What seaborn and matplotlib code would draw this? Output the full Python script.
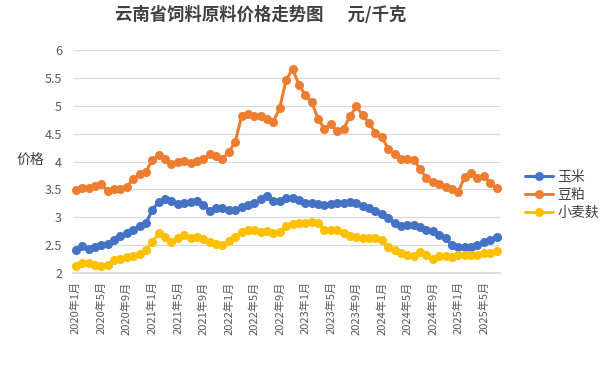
import pandas as pd
import matplotlib
matplotlib.use("Agg")
import matplotlib.pyplot as plt
import seaborn as sns

# 月份：2020年1月 - 2025年7月
months = [f"{y}年{m}月" for y in range(2020, 2026) for m in range(1, 13)][:67]

corn = [2.42, 2.48, 2.44, 2.46, 2.50, 2.53, 2.60, 2.67, 2.71, 2.78, 2.84, 2.89,
        3.13, 3.28, 3.32, 3.30, 3.24, 3.26, 3.28, 3.30, 3.22, 3.12, 3.16, 3.17,
        3.13, 3.14, 3.18, 3.22, 3.26, 3.32, 3.38, 3.30, 3.30, 3.35, 3.34, 3.31,
        3.26, 3.25, 3.23, 3.22, 3.24, 3.25, 3.26, 3.27, 3.26, 3.20, 3.16, 3.12,
        3.06, 2.98, 2.89, 2.84, 2.86, 2.86, 2.83, 2.78, 2.76, 2.68, 2.62, 2.50,
        2.47, 2.47, 2.47, 2.50, 2.56, 2.59, 2.65]

soymeal = [3.49, 3.53, 3.53, 3.56, 3.59, 3.48, 3.50, 3.51, 3.55, 3.68, 3.78, 3.82,
           4.03, 4.11, 4.05, 3.95, 3.99, 4.01, 3.97, 4.01, 4.05, 4.13, 4.10, 4.05,
           4.17, 4.35, 4.81, 4.85, 4.82, 4.81, 4.77, 4.71, 4.97, 5.47, 5.66, 5.38,
           5.19, 5.07, 4.77, 4.59, 4.67, 4.54, 4.59, 4.81, 4.99, 4.83, 4.69, 4.51,
           4.44, 4.23, 4.13, 4.05, 4.05, 4.03, 3.87, 3.70, 3.64, 3.60, 3.55, 3.50,
           3.46, 3.73, 3.80, 3.70, 3.74, 3.61, 3.52]

bran = [2.12, 2.18, 2.18, 2.14, 2.12, 2.14, 2.23, 2.26, 2.28, 2.30, 2.35, 2.42,
        2.56, 2.71, 2.64, 2.56, 2.62, 2.68, 2.62, 2.65, 2.61, 2.55, 2.53, 2.50,
        2.58, 2.64, 2.74, 2.78, 2.77, 2.74, 2.75, 2.72, 2.74, 2.84, 2.88, 2.90,
        2.90, 2.92, 2.89, 2.78, 2.78, 2.77, 2.72, 2.67, 2.65, 2.62, 2.62, 2.62,
        2.59, 2.47, 2.41, 2.36, 2.32, 2.31, 2.37, 2.32, 2.26, 2.30, 2.30, 2.29,
        2.32, 2.33, 2.33, 2.33, 2.36, 2.36, 2.39]

series = {"玉米": corn, "豆粕": soymeal, "小麦麸": bran}
palette = {"玉米": "#4472C4", "豆粕": "#ED7D31", "小麦麸": "#FFC000"}

df = pd.concat([
    pd.DataFrame({"idx": range(len(months)), "month": months, "price": v, "item": k})
    for k, v in series.items()
])

sns.set_theme(style="white")
plt.rcParams["font.family"] = ["Noto Sans CJK SC", "DejaVu Sans"]

fig = plt.figure(figsize=(6, 3.66), dpi=100)
ax = fig.add_axes([0.122, 0.254, 0.711, 0.609])

sns.lineplot(data=df, x="idx", y="price", hue="item", palette=palette,
             marker="o", markersize=6.5, markeredgewidth=0, linewidth=2.2,
             ax=ax, clip_on=False)

ax.set_ylim(2, 6)
ax.set_yticks([2, 2.5, 3, 3.5, 4, 4.5, 5, 5.5, 6])
ax.set_yticklabels(["2", "2.5", "3", "3.5", "4", "4.5", "5", "5.5", "6"])
ax.set_xlim(-0.4, 66.5)
ticks = list(range(0, len(months), 4))
ax.set_xticks(ticks)
ax.set_xticklabels([months[i] for i in ticks], rotation=90)

ax.yaxis.grid(True, color="#D9D9D9", linewidth=0.9)
ax.xaxis.grid(False)
for s in ["top", "right", "left"]:
    ax.spines[s].set_visible(False)
ax.spines["bottom"].set_color("#D9D9D9")
ax.tick_params(axis="x", colors="#595959", labelsize=8, length=4, width=0.9,
               color="#D9D9D9", pad=2)
ax.tick_params(axis="y", colors="#595959", labelsize=9, length=0, pad=8)
ax.set_xlabel("")
ax.set_ylabel("价格", rotation=0, fontsize=10, color="#404040", va="center", ha="center")
ax.yaxis.set_label_coords(-0.10, 0.507)

ax.legend(loc="center left", bbox_to_anchor=(1.03, 0.35), frameon=False,
          fontsize=10, handlelength=2.0, labelspacing=0.3, handletextpad=0.3,
          labelcolor="#404040")

fig.suptitle("云南省饲料原料价格走势图      元/千克", x=0.435, y=0.985,
             fontsize=12.5, fontweight="bold", color="#404040")

fig.savefig("out.png", dpi=100)
